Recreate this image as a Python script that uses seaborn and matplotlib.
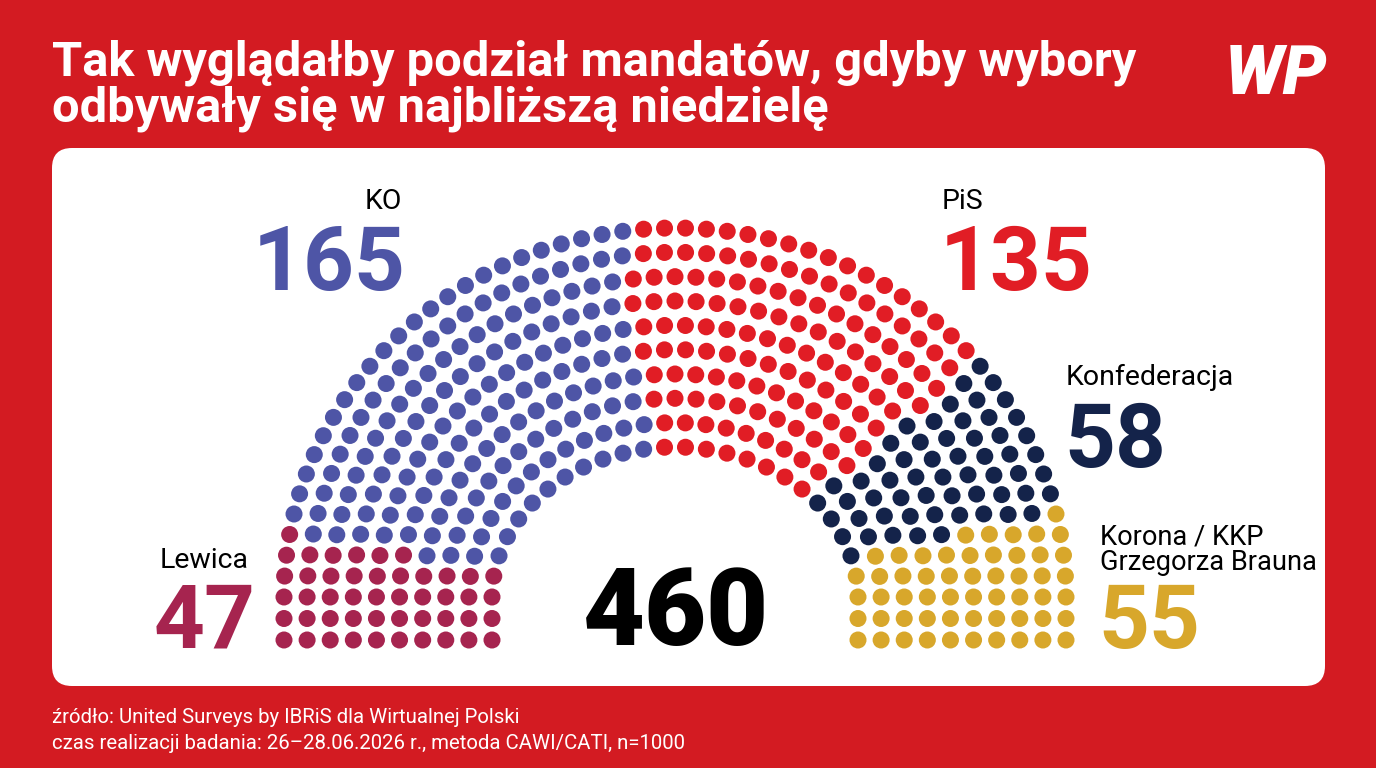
import numpy as np
import pandas as pd
import matplotlib
matplotlib.use("Agg")
import matplotlib.pyplot as plt
from matplotlib.patches import FancyBboxPatch
import seaborn as sns

# ---------------- data ----------------
parties = ["Lewica", "KO", "PiS", "Konfederacja", "Korona / KKP\nGrzegorza Brauna"]
seats = [47, 165, 135, 58, 55]
colors = ["#A6244F", "#4E55A6", "#E11D25", "#14234A", "#D8A72B"]
total_label = "460"
title_lines = ["Tak wyglądałby podział mandatów, gdyby wybory",
               "odbywały się w najbliższą niedzielę"]
source_lines = ["źródło: United Surveys by IBRiS dla Wirtualnej Polski",
                "czas realizacji badania: 26–28.06.2026 r., metoda CAWI/CATI, n=1000"]

# ---------------- style ----------------
W, H, DPI = 1376, 768, 100
BG_RED = "#D31B22"
sns.set_theme(style="white")
plt.rcParams['font.family'] = ['Roboto', 'DejaVu Sans']

# ---------------- hemicycle layout ----------------
n_rings = 10
cx, cy = 675, 597
rx = np.linspace(183, 391, n_rings)
ry = np.linspace(150, 369, n_rings)
leg_rows, leg_step = 2, 21.5

total = sum(seats)
n_arc_total = total - 2 * leg_rows * n_rings
th = np.linspace(0, np.pi, 4001)
perims = np.array([np.hypot(np.diff(a * np.cos(th)), np.diff(b * np.sin(th))).sum()
                   for a, b in zip(rx, ry)])
raw = 1 + (n_arc_total - n_rings) * perims / perims.sum()
n_arc = np.floor(raw).astype(int)
rem = n_arc_total - n_arc.sum()
n_arc[np.argsort(-(raw - n_arc))[:rem]] += 1

rows = []
for i in range(n_rings):
    a, b = rx[i], ry[i]
    seg = np.hypot(np.diff(a * np.cos(th)), np.diff(b * np.sin(th)))
    cum = np.concatenate([[0], np.cumsum(seg)])
    thetas = np.interp(np.linspace(0, cum[-1], n_arc[i]), cum, th)
    for t in thetas:
        rows.append((cx - a * np.cos(t), cy - b * np.sin(t), t, i))
    for k in range(1, leg_rows + 1):
        rows.append((cx - a, cy + k * leg_step, -k, i))
        rows.append((cx + a, cy + k * leg_step, np.pi + k, i))

df = pd.DataFrame(rows, columns=["x", "y", "key", "ring"])
df = df.sort_values(["key", "ring"], ascending=[True, False], kind="stable").reset_index(drop=True)
df["party"] = np.repeat(parties, seats)

# ---------------- figure ----------------
fig = plt.figure(figsize=(W / DPI, H / DPI), dpi=DPI, facecolor=BG_RED)
ax = fig.add_axes([0, 0, 1, 1])
ax.set_facecolor(BG_RED)

card = FancyBboxPatch((52, 148), 1325 - 52, 686 - 148,
                      boxstyle="round,pad=0,rounding_size=20",
                      facecolor="white", edgecolor="none", zorder=0)
ax.add_patch(card)

sns.scatterplot(data=df, x="x", y="y", hue="party",
                palette=dict(zip(parties, colors)), s=150, linewidth=0,
                legend=False, ax=ax, zorder=2)

ax.set_xlim(0, W)
ax.set_ylim(H, 0)
ax.axis("off")

# title
ax.text(52, 75, title_lines[0], color="white", fontsize=35.2, fontweight="bold", va="baseline")
ax.text(52, 122, title_lines[1], color="white", fontsize=35.2, fontweight="bold", va="baseline")

# logo
ax.text(1276, 94, "WP", color="white", fontsize=50, fontweight="heavy",
        ha="center", va="baseline", style="italic")

# party labels
lab_fs, num_fs = 20.5, 64
c = dict(zip(parties, colors))
ax.text(402, 209, parties[1], color="black", fontsize=lab_fs, ha="right", va="baseline")
ax.text(406, 290, str(seats[1]), color=c[parties[1]], fontsize=num_fs, fontweight="bold", ha="right", va="baseline")

ax.text(942, 209, parties[2], color="black", fontsize=lab_fs, ha="left", va="baseline")
ax.text(940, 290, str(seats[2]), color=c[parties[2]], fontsize=num_fs, fontweight="bold", ha="left", va="baseline")

ax.text(1066, 385, parties[3], color="black", fontsize=lab_fs, ha="left", va="baseline")
ax.text(1064, 467, str(seats[3]), color=c[parties[3]], fontsize=num_fs, fontweight="bold", ha="left", va="baseline")

ax.text(160, 568, parties[0], color="black", fontsize=lab_fs, ha="left", va="baseline")
ax.text(154, 648, str(seats[0]), color=c[parties[0]], fontsize=num_fs, fontweight="bold", ha="left", va="baseline")

k1, k2 = parties[4].split("\n")
ax.text(1100, 545, k1, color="black", fontsize=19.6, ha="left", va="baseline")
ax.text(1100, 570, k2, color="black", fontsize=19.6, ha="left", va="baseline")
ax.text(1098, 648, str(seats[4]), color=c[parties[4]], fontsize=num_fs, fontweight="bold", ha="left", va="baseline")

ax.text(676, 645, total_label, color="black", fontsize=77, fontweight="heavy", ha="center", va="baseline")

# source
ax.text(52, 723, source_lines[0], color="white", fontsize=14.7, va="baseline")
ax.text(52, 749, source_lines[1], color="white", fontsize=14.7, va="baseline")

fig.savefig("out.png", dpi=DPI, facecolor=BG_RED)
